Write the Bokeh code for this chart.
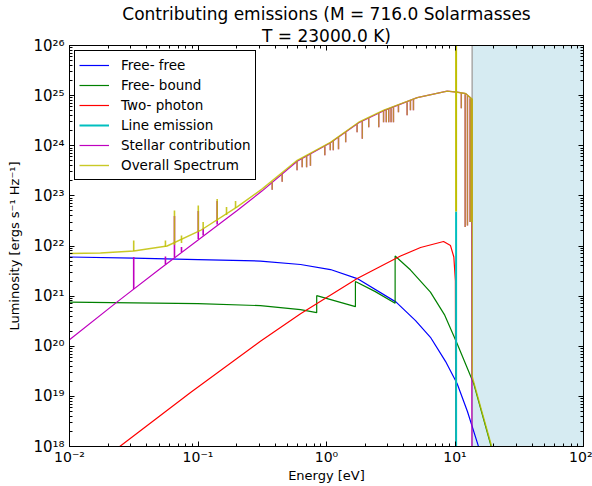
from bokeh.plotting import figure
from bokeh.models import (Range1d, FixedTicker, CustomJSTickFormatter, LogAxis,
                          BoxAnnotation, Span, Legend, LegendItem, Title)
from bokeh.embed import file_html
from bokeh.resources import INLINE

# ---------------- data (energy in eV, luminosity in erg/s/Hz) ----------------
ff_E = [0.01, 0.0316, 0.1, 0.306, 0.628, 1.074, 1.734, 3.483, 4.932, 6.442, 8.433, 10.40, 12.50, 15.14, 17.78]
ff_L = [6.03e21, 5.75e21, 5.37e21, 5.01e21, 4.27e21, 3.39e21, 2.24e21, 7.59e20, 3.24e20, 1.51e20,
        5.0e19, 1.78e19, 5.0e18, 1.05e18, 1.26e17]

fb_E = [0.01, 0.1, 0.306, 0.628, 0.839, 0.839, 1.679, 1.679, 2.399, 3.42, 3.42, 4.51, 6.44, 8.32,
        10.4, 14.0, 18.9, 22.4]
fb_L = [7.59e20, 7.08e20, 6.46e20, 5.37e20, 4.68e20, 1.02e21, 6.17e20, 1.95e21, 1.23e21, 7.24e20,
        6.31e21, 3.31e21, 1.20e21, 4.17e20, 1.12e20, 1.78e19, 1.12e18, 1.26e17]

tp_E = [0.01, 0.0246, 0.0875, 0.306, 0.628, 1.734, 3.767, 5.395, 8.147, 9.226, 9.795, 10.07, 10.2]
tp_L = [1.78e17, 1.0e18, 1.20e19, 1.26e20, 4.47e20, 2.24e21, 6.31e21, 9.33e21, 1.23e22, 1.02e22,
        6.03e21, 2.0e21, 1e15]

line_E = [10.2, 10.2]
line_L = [1e15, 4.9e22]

star_E = [0.01, 0.0242, 0.0510, 0.2018, 0.3162, 0.5916, 1.074, 1.782, 2.793, 5.082, 8.690, 10.40,
          12.08, 13.43, 13.6]
star_L = [1.35e20, 8.13e20, 3.55e21, 5.13e22, 1.26e23, 4.90e23, 1.15e24, 2.88e24, 5.01e24, 9.12e24,
          1.23e25, 1.17e25, 1.10e25, 8.71e24, 1e15]

# emission lines of the stellar contribution (low energies)
star_em_E = [0.0316, 0.0558, 0.0656, 0.0744, 0.1005, 0.1097, 0.141]
star_em_base = [1.38e21, 4.27e21, 5.89e21, 7.59e21, 1.38e22, 1.62e22, 2.69e22]
star_em_tip = [6.03e21, 6.17e21, 3.98e22, 9.55e21, 5.01e22, 2.24e22, 7.94e22]

tot_E = [0.01, 0.0174, 0.0316, 0.0575, 0.1045, 0.2018, 0.3162, 0.5916, 1.074, 1.782, 2.793, 5.082,
         8.690, 10.40, 12.08, 13.43, 13.6, 13.6, 15.85, 19.05, 22.39]
tot_L = [7.08e21, 7.24e21, 7.94e21, 1.0e22, 2.04e22, 6.03e22, 1.38e23, 5.13e23, 1.17e24, 2.95e24,
         5.13e24, 9.12e24, 1.23e25, 1.17e25, 1.10e25, 8.71e24, 8.71e24, 2.51e19, 6.03e18, 1.12e18, 1.26e17]

# emission spikes of the overall spectrum (low energies)
tot_em_E = [0.0316, 0.0558, 0.0656, 0.0744, 0.1005, 0.1097, 0.141, 0.1667, 0.196]
tot_em_base = [7.94e21, 9.55e21, 1.05e22, 1.15e22, 2.0e22, 2.24e22, 3.16e22, 4.17e22, 5.75e22]
tot_em_tip = [1.29e22, 1.29e22, 5.13e22, 1.62e22, 6.46e22, 3.02e22, 8.71e22, 6.03e22, 7.94e22]

# absorption lines (stellar and overall)
abs_E = [0.378, 0.452, 0.59, 0.647, 0.70, 0.75, 0.97, 1.07, 1.13, 1.24, 1.41, 1.73, 1.90, 2.13, 2.55,
         2.78, 2.92, 3.05, 3.18, 3.32, 3.63, 4.24, 4.50, 4.75, 11.2, 12.0, 12.5, 13.1, 13.35, 13.55]
abs_base = [1.91e23, 2.75e23, 4.90e23, 5.62e23, 6.31e23, 6.92e23, 9.77e23, 1.12e24, 1.26e24, 1.48e24,
            1.86e24, 2.69e24, 3.09e24, 3.55e24, 4.47e24, 5.01e24, 5.25e24, 5.50e24, 5.62e24, 5.89e24,
            6.46e24, 7.41e24, 7.94e24, 8.32e24, 1.12e25, 1.07e25, 1.0e25, 8.91e24, 8.71e24, 8.51e24]
abs_tip = [1.32e23, 1.91e23, 3.24e23, 3.72e23, 3.72e23, 3.98e23, 6.46e23, 8.13e23, 8.13e23, 8.51e23,
           1.17e24, 1.86e24, 1.38e24, 2.34e24, 2.34e24, 2.95e24, 2.95e24, 2.95e24, 2.95e24, 2.95e24,
           4.68e24, 4.07e24, 5.13e24, 5.13e24, 5.62e24, 2.40e22, 2.57e22, 3.02e22, 3.02e22, 3.02e22]

# Lyman-alpha spike of the overall spectrum
lya_E = [10.2]
lya_base = [4.9e22]
lya_tip = [1e27]

ion_edge_eV = 13.6

x_major = [1e-2, 1e-1, 1e0, 1e1, 1e2]
y_major = [1e18, 1e19, 1e20, 1e21, 1e22, 1e23, 1e24, 1e25, 1e26]
x_minor = [m * 10.0 ** k for k in range(-2, 2) for m in range(2, 10)]
y_minor = [m * 10.0 ** k for k in range(18, 26) for m in range(2, 10)]

title_1 = "Contributing emissions (M = 716.0 Solarmasses"
title_2 = "T = 23000.0 K)"
x_label = "Energy [eV]"
y_label = "Luminosity [ergs s\u207b\u00b9 Hz\u207b\u00b9]"

# ---------------- figure ----------------
FONT = "DejaVu Sans"
p = figure(width=592, height=486, x_axis_type="log", y_axis_type="log",
           x_range=Range1d(1e-2, 1e2), y_range=Range1d(1e18, 1e26),
           output_backend="svg", toolbar_location=None,
           min_border_left=69, min_border_right=9, min_border_top=45, min_border_bottom=40)
p.background_fill_color = "white"
p.border_fill_color = "white"
p.outline_line_color = "black"
p.xgrid.visible = False
p.ygrid.visible = False
p.title.visible = False

fmt = CustomJSTickFormatter(code="""
const m = {'-':'\\u207b','0':'\\u2070','1':'\\u00b9','2':'\\u00b2','3':'\\u00b3','4':'\\u2074',
           '5':'\\u2075','6':'\\u2076','7':'\\u2077','8':'\\u2078','9':'\\u2079'};
const e = Math.round(Math.log10(tick));
return '10' + String(e).split('').map(c => m[c]).join('');
""")

def style(ax, major, minor, labels=True):
    ax.ticker = FixedTicker(ticks=major, minor_ticks=minor)
    ax.major_tick_in = 5
    ax.major_tick_out = 0
    ax.minor_tick_in = 3
    ax.minor_tick_out = 0
    ax.axis_line_color = "black"
    ax.major_tick_line_color = "black"
    ax.minor_tick_line_color = "black"
    ax.formatter = fmt
    if labels:
        ax.major_label_text_font = FONT
        ax.major_label_text_font_size = "15px"
        ax.major_label_text_color = "black"
        ax.axis_label_text_font = FONT
        ax.axis_label_text_font_size = "13px"
        ax.axis_label_text_font_style = "normal"
        ax.axis_label_text_color = "black"
    else:
        ax.major_label_text_font_size = "1px"
        ax.major_label_text_alpha = 0
        ax.major_label_standoff = 0

style(p.xaxis[0], x_major, x_minor)
style(p.yaxis[0], y_major, y_minor)
p.xaxis[0].axis_label = x_label
p.yaxis[0].axis_label = y_label
p.xaxis[0].major_label_text_font_size = "14px"
p.xaxis[0].major_label_standoff = 2
p.xaxis[0].axis_label_standoff = 0
p.yaxis[0].major_label_standoff = 5
p.yaxis[0].axis_label_standoff = 8

top_ax = LogAxis()
right_ax = LogAxis()
style(top_ax, x_major, x_minor, labels=False)
style(right_ax, y_major, y_minor, labels=False)
p.add_layout(top_ax, "above")
p.add_layout(right_ax, "right")

p.add_layout(Title(text=title_2, align="center", text_font=FONT, text_font_size="17px",
                   text_font_style="normal", text_color="black", standoff=0, offset=0), "above")
p.add_layout(Title(text=title_1, align="center", text_font=FONT, text_font_size="17px",
                   text_font_style="normal", text_color="black", standoff=0, offset=0), "above")

# shaded ionising region and edge
p.add_layout(BoxAnnotation(left=ion_edge_eV, fill_color="lightblue", fill_alpha=0.5,
                           line_color=None, level="underlay"))
p.add_layout(Span(location=ion_edge_eV, dimension="height", line_color="#a8a8a8",
                  line_width=1.5, level="underlay"))

LW = 1.2
r_ff = p.line(ff_E, ff_L, line_color="#0000ff", line_width=LW)
r_fb = p.line(fb_E, fb_L, line_color="#008000", line_width=LW)
r_tp = p.line(tp_E, tp_L, line_color="#ff0000", line_width=LW)
r_line = p.line(line_E, line_L, line_color="#00bfbf", line_width=2)
r_star = p.line(star_E, star_L, line_color="#bf00bf", line_width=LW)
p.segment(x0=star_em_E, y0=star_em_base, x1=star_em_E, y1=star_em_tip,
          line_color="#bf00bf", line_width=1.6)
p.segment(x0=abs_E, y0=abs_base, x1=abs_E, y1=abs_tip, line_color="#bf00bf", line_width=1.4)

YA = 0.85
r_tot = p.line(tot_E, tot_L, line_color="#bfbf00", line_width=1.4, line_alpha=YA)
p.segment(x0=tot_em_E, y0=tot_em_base, x1=tot_em_E, y1=tot_em_tip,
          line_color="#bfbf00", line_width=1.6, line_alpha=YA)
p.segment(x0=abs_E, y0=abs_base, x1=abs_E, y1=abs_tip, line_color="#bfbf00",
          line_width=1.4, line_alpha=0.7)
p.segment(x0=lya_E, y0=lya_base, x1=lya_E, y1=lya_tip, line_color="#bfbf00",
          line_width=2, line_alpha=1.0)

legend = Legend(items=[LegendItem(label="Free- free", renderers=[r_ff]),
                       LegendItem(label="Free- bound", renderers=[r_fb]),
                       LegendItem(label="Two- photon", renderers=[r_tp]),
                       LegendItem(label="Line emission", renderers=[r_line]),
                       LegendItem(label="Stellar contribution", renderers=[r_star]),
                       LegendItem(label="Overall Spectrum", renderers=[r_tot])],
                location="top_left", border_line_color="black", border_line_width=1,
                border_line_alpha=1, background_fill_color="white", background_fill_alpha=1,
                label_text_font=FONT, label_text_font_size="13.5px", label_text_color="black",
                glyph_width=30, glyph_height=20, label_height=20, label_standoff=12,
                spacing=0, padding=4, margin=5)
p.add_layout(legend)

open("out.html", "w").write(file_html(p, INLINE))
